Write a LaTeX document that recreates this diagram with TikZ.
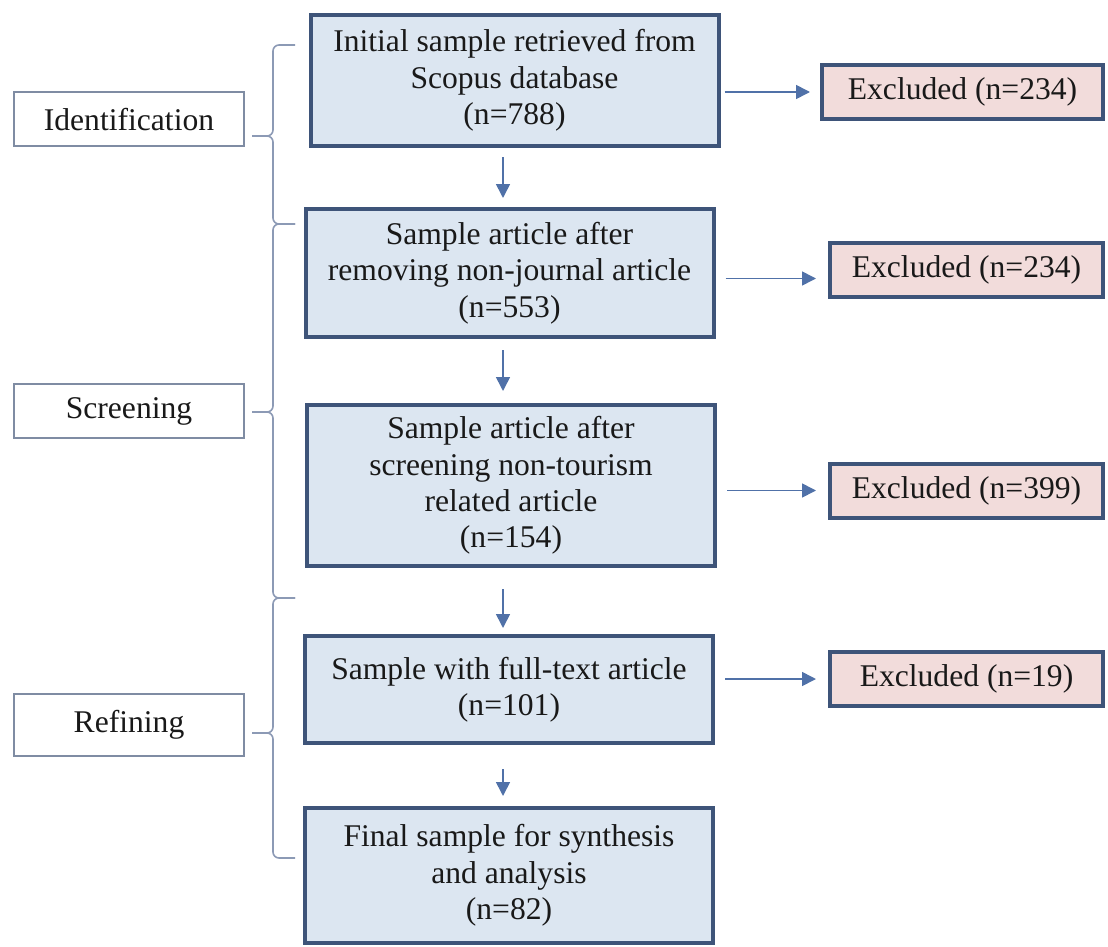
\documentclass[tikz,border=0pt]{standalone}
\usepackage{fontspec}
\setmainfont{Liberation Serif}
\usepackage{xcolor}
\usetikzlibrary{arrows.meta}
\definecolor{boxblue}{HTML}{DCE6F1}
\definecolor{boxedge}{HTML}{3E5479}
\definecolor{exclpink}{HTML}{F2DCDB}
\definecolor{phasegray}{HTML}{7F8CA3}
\definecolor{flowblue}{HTML}{5071A8}
\definecolor{bracegray}{HTML}{8C9AB5}
\tikzstyle{stagebox} = [rectangle, draw=boxedge, line width=2pt, fill=boxblue, minimum width=204pt, align=center, inner sep=0pt]
\tikzstyle{exclbox} = [rectangle, draw=boxedge, line width=2pt, fill=exclpink, minimum width=136.5pt, minimum height=27pt, inner sep=0pt]
\tikzstyle{phasebox} = [rectangle, draw=phasegray, line width=1pt, fill=white, minimum width=115pt, minimum height=27pt, inner sep=0pt]
\tikzstyle{flow} = [color=flowblue, line width=0.8pt, -{Triangle[length=7pt,width=7pt]}]
\tikzstyle{curlyline} = [draw=bracegray, line width=0.8pt, rounded corners=3pt]

\begin{document}
\begin{tikzpicture}[x=0.5pt,y=-0.5pt,font=\fontsize{15.8pt}{18.2pt}\selectfont,text=black!90]
  \useasboundingbox (0,0) rectangle (1108,947);

  % main stages
  \node[stagebox, minimum height=65.5pt] (Init) at (514.5,80.5) {Initial sample retrieved from\\Scopus database\\(n=788)};
  \node[stagebox, minimum height=64pt] (NonJournal) at (509.5,273) {Sample article after\\removing non-journal article\\(n=553)};
  \node[stagebox, minimum height=80.5pt] (NonTourism) at (511,485.5) {Sample article after\\screening non-tourism\\related article\\(n=154)};
  \node[stagebox, minimum height=53.5pt] (FullText) at (509,689.5) {Sample with full-text article\\(n=101)};
  \node[stagebox, minimum height=67.5pt] (Final) at (509,875.5) {Final sample for synthesis\\and analysis\\(n=82)};

  % excluded
  \node[exclbox, minimum width=140.5pt] (Ex_Init) at (962.5,92) {Excluded (n=234)};
  \node[exclbox] (Ex_Journal) at (966.5,269.5) {Excluded (n=234)};
  \node[exclbox] (Ex_Tourism) at (966.5,490.5) {Excluded (n=399)};
  \node[exclbox] (Ex_Text) at (966.5,679) {Excluded (n=19)};

  % phases
  \node[phasebox] (Ident) at (129,119.5) {Identification};
  \node[phasebox] (Screen) at (129,411) {Screening};
  \node[phasebox, minimum height=31pt] (Refine) at (129,725) {Refining};

  \coordinate (axis) at (503,0);
  \path[flow] (Init.south -| axis) edge[shorten <=4.5pt, shorten >=4.5pt] (NonJournal.north -| axis);
  \path[flow] (NonJournal.south -| axis) edge[shorten <=5.5pt, shorten >=6pt] (NonTourism.north -| axis);
  \path[flow] (NonTourism.south -| axis) edge[shorten <=10.5pt, shorten >=3pt] (FullText.north -| axis);
  \path[flow] (FullText.south -| axis) edge[shorten <=12pt, shorten >=5pt] (Final.north -| axis);

  \path[flow] (Init.east |- Ex_Init.west) edge[shorten <=2pt, shorten >=5pt] (Ex_Init.west);
  \path[flow] ([yshift=-4.5pt]NonJournal.east |- Ex_Journal.west) edge[shorten <=5pt, shorten >=6pt] ([yshift=-4.5pt]Ex_Journal.west);
  \path[flow] (NonTourism.east |- Ex_Tourism.west) edge[shorten <=5pt, shorten >=6pt] (Ex_Tourism.west);
  \path[flow] (FullText.east |- Ex_Text.west) edge[shorten <=5pt, shorten >=6pt] (Ex_Text.west);

  % braces
  \foreach \ya/\yb/\yc in {45/136/224, 224/412/598, 598/733/858} {
    \draw[curlyline] (295,\ya) -| (273,\yb) -- (252,\yb);
    \draw[curlyline] (252,\yb) -- (273,\yb) |- (295,\yc);
  }
\end{tikzpicture}
\end{document}
